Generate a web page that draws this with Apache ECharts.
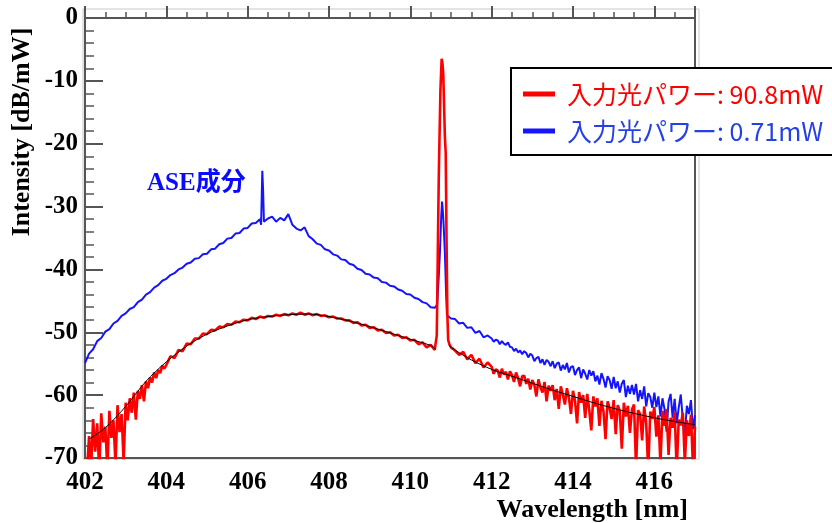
<!DOCTYPE html>
<html>
<head>
<meta charset="utf-8">
<script src="https://cdn.jsdelivr.net/npm/echarts@6/dist/echarts.min.js"></script>
<style>
html, body { margin: 0; padding: 0; background: #fff; }
#chart { width: 832px; height: 523px; }
</style>
</head>
<body>
<div id="chart"></div>
<script>
// each segment: first wavelength, step (nm), values in dB/mW
// blue: 402.0 - 411.9 every 0.1 nm
var blueMainDb = [
    -54.9, -53.4, -52.7, -51.4, -50.9, -49.9, -49.5, -48.6, -48.2, -47.4,
    -47.0, -46.3, -46.0, -45.2, -44.8, -44.0, -43.6, -42.9, -42.5, -41.8,
    -41.5, -40.9, -40.6, -40.0, -39.7, -39.1, -38.9, -38.3, -38.2, -37.6,
    -37.5, -36.8, -36.7, -36.0, -35.8, -35.1, -35.0, -34.3, -34.2, -33.5,
    -33.4, -32.7, -32.6, -32.0, -32.4, -31.9, -31.6, -32.4, -31.8, -32.2,
    -31.2, -32.9, -33.5, -33.8, -33.3, -34.7, -35.2, -35.9, -36.1, -36.8,
    -37.0, -37.6, -37.8, -38.4, -38.5, -39.1, -39.3, -39.9, -40.1, -40.7,
    -40.8, -41.3, -41.4, -42.0, -42.1, -42.6, -42.7, -43.2, -43.4, -43.9,
    -44.0, -44.5, -44.7, -45.2, -45.4, -46.0, -46.1, -41.0, -30.8, -47.3,
    -47.8, -47.9, -48.6, -48.5, -49.3, -49.2, -50.1, -49.8, -50.8, -50.5
];
// blue: 412.00 - 417.00 every 0.05 nm
var blueTailDb = [
    -51.0, -51.5, -51.2, -51.3, -51.9, -51.4, -51.8, -52.0, -51.6, -52.3,
    -52.4, -53.0, -52.6, -53.2, -52.9, -53.5, -53.0, -53.3, -54.0, -53.4,
    -53.7, -54.6, -54.1, -53.9, -54.9, -54.3, -55.2, -54.4, -54.7, -55.4,
    -54.6, -55.7, -55.0, -54.8, -56.1, -55.2, -55.9, -54.9, -56.4, -55.5,
    -55.4, -56.8, -56.0, -55.6, -57.3, -55.9, -56.6, -57.5, -56.0, -56.9,
    -56.2, -57.8, -56.9, -58.3, -56.5, -57.4, -58.8, -57.0, -57.6, -59.0,
    -57.1, -58.9, -57.8, -59.6, -58.2, -57.6, -60.3, -58.5, -59.8, -58.4,
    -59.9, -58.2, -61.0, -59.2, -60.6, -58.6, -61.8, -59.7, -60.3, -62.0,
    -59.6, -61.9, -60.2, -63.4, -60.5, -62.2, -65.8, -61.0, -59.8, -63.6,
    -60.6, -64.5, -62.0, -59.9, -63.8, -66.2, -61.7, -63.0, -60.8, -65.4,
    -63.2
];

// red: 402.00 - 403.95 every 0.05 nm
var redHeadDb = [
    -73.0, -72.0, -66.5, -71.5, -63.8, -69.0, -64.5, -72.0, -62.9, -67.5,
    -65.0, -71.8, -62.5, -66.8, -64.0, -71.0, -61.6, -65.9, -63.0, -70.5,
    -61.2, -64.0, -60.5, -62.8, -59.6, -63.9, -59.3, -60.6, -58.4, -61.0,
    -57.8, -58.9, -57.2, -58.0, -56.4, -57.3, -56.0, -56.5, -55.3, -55.8
];
// red: 404.0 - 411.9 every 0.1 nm
var redMainDb = [
    -55.2, -53.8, -54.1, -52.8, -53.0, -51.8, -51.9, -51.0, -51.0, -50.2,
    -50.3, -49.6, -49.7, -49.1, -49.2, -48.7, -48.8, -48.3, -48.4, -48.0,
    -48.1, -47.7, -47.9, -47.5, -47.7, -47.4, -47.5, -47.2, -47.4, -47.1,
    -47.3, -47.0, -47.2, -46.9, -47.2, -47.0, -47.3, -47.1, -47.4, -47.3,
    -47.6, -47.5, -47.8, -47.8, -48.1, -48.1, -48.5, -48.4, -48.9, -48.8,
    -49.3, -49.2, -49.7, -49.6, -50.1, -50.0, -50.5, -50.4, -50.9, -50.8,
    -51.3, -51.2, -51.9, -51.6, -52.4, -52.0, -52.8, -25.0, -8.0, -41.0,
    -52.4, -52.9, -53.6, -53.1, -54.3, -53.6, -54.9, -54.2, -55.6, -54.8
];
// red: 412.00 - 417.00 every 0.05 nm
var redTailDb = [
    -55.5, -56.6, -55.9, -56.1, -57.2, -55.8, -56.7, -56.3, -57.5, -56.2,
    -56.8, -57.9, -56.4, -57.3, -58.6, -57.0, -56.9, -58.2, -57.4, -59.1,
    -57.6, -58.4, -60.2, -57.5, -58.8, -59.6, -57.9, -61.0, -58.5, -59.3,
    -58.4, -60.8, -59.0, -62.2, -58.6, -59.9, -61.5, -58.9, -60.4, -63.0,
    -59.3, -60.9, -64.5, -59.5, -61.2, -60.0, -63.6, -59.8, -62.4, -65.6,
    -60.2, -61.8, -60.5, -64.9, -60.9, -62.6, -67.0, -61.0, -62.0, -63.8,
    -60.8, -66.2, -61.6, -62.5, -68.5, -61.2, -63.4, -61.7, -66.0, -62.3,
    -61.5, -71.5, -62.4, -63.0, -67.2, -61.8, -64.5, -72.0, -62.6, -63.8,
    -61.9, -66.6, -63.2, -71.0, -62.5, -64.9, -62.2, -69.5, -63.6, -65.2,
    -62.6, -72.0, -63.9, -64.8, -62.8, -70.8, -64.0, -66.5, -63.1, -71.5,
    -65.0
];

// finer samples around the narrow peaks
var bluePeakWl = [406.33, 406.36, 406.38, 406.39, 406.43,
    410.63, 410.66, 410.73, 410.76, 410.78, 410.82, 410.85, 410.88, 410.93];
var bluePeakDb = [-32.9, -24.3, -27.5, -30.0, -32.5,
    -46.4, -45.6, -37.0, -31.5, -29.2, -33.0, -37.5, -44.0, -47.3];

var redPeakWl = [410.62, 410.65, 410.68, 410.71, 410.74, 410.77, 410.79, 410.81,
    410.83, 410.85, 410.87, 410.89, 410.91, 410.93, 410.96];
var redPeakDb = [-52.9, -50.5, -35.0, -21.5, -11.5, -6.5, -7.2, -9.0,
    -14.0, -19.0, -21.5, -35.0, -47.0, -51.2, -51.9];

// smooth black trace through the red spectrum
var fitWl = [402.1, 402.5, 403, 403.5, 404, 404.5, 405, 405.5, 406, 406.5, 407, 407.5,
    408, 408.5, 409, 409.5, 410, 410.5, 410.62, 410.8, 410.95, 411, 411.5, 412,
    412.5, 413, 413.5, 414, 414.5, 415, 415.5, 416, 416.5, 417];
var fitDb = [-67.0, -65.2, -61.8, -57.8, -54.7, -52.2, -50.3, -49.0, -48.0, -47.5, -47.2, -47.1,
    -47.5, -48.2, -49.1, -50.1, -51.1, -52.1, -52.7, null, -52.0, -52.4, -54.4, -55.9,
    -57.0, -58.1, -59.2, -60.2, -61.2, -62.1, -62.9, -63.6, -64.2, -64.7];

var xTicks = { min: 402, max: 417, step: 2 };
var yTicks = { min: -70, max: 0, step: 10 };

var redName = '入力光パワー: 90.8mW';
var blueName = '入力光パワー: 0.71mW';

function segment(start, step, values) {
    return values.map(function (v, i) {
        return [+(start + i * step).toFixed(2), v];
    });
}

function merge(parts, extraWl, extraDb) {
    var pts = [].concat.apply([], parts);
    extraWl.forEach(function (w, i) { pts.push([w, extraDb[i]]); });
    pts.sort(function (a, b) { return a[0] - b[0]; });
    return pts;
}

var blueData = merge([
    segment(402.0, 0.1, blueMainDb),
    segment(412.0, 0.05, blueTailDb)
], bluePeakWl, bluePeakDb);

var redData = merge([
    segment(402.0, 0.05, redHeadDb),
    segment(404.0, 0.1, redMainDb),
    segment(412.0, 0.05, redTailDb)
], redPeakWl, redPeakDb);

var chart = echarts.init(document.getElementById('chart'));

var tickFont = {
    fontFamily: '"Liberation Serif", "Times New Roman", serif',
    fontWeight: 'bold',
    fontSize: 25,
    color: '#000'
};

chart.setOption({
    animation: false,
    grid: {
        left: 85, right: 137, top: 18, bottom: 65,
        show: true, borderColor: '#555', borderWidth: 2, backgroundColor: '#fff'
    },
    legend: {
        left: 511, top: 68,
        orient: 'vertical',
        backgroundColor: '#fff',
        borderColor: '#000', borderWidth: 2,
        padding: [13, 40, 11, 12],
        itemGap: 11,
        itemWidth: 32, itemHeight: 5,
        icon: 'rect',
        textStyle: {
            fontFamily: '"Noto Sans CJK JP", sans-serif', fontSize: 25, lineHeight: 26,
            padding: [0, 0, 0, 7]
        },
        data: [
            { name: redName, textStyle: { color: '#ff0000' } },
            { name: blueName, textStyle: { color: '#2541e6' } }
        ]
    },
    xAxis: {
        type: 'value',
        min: xTicks.min, max: xTicks.max, interval: xTicks.step,
        axisLine: { lineStyle: { color: '#555', width: 2 } },
        axisTick: { inside: true, length: 12, lineStyle: { color: '#555', width: 2 } },
        minorTick: { show: true, splitNumber: 4, length: 6, lineStyle: { color: '#555', width: 1.5 } },
        axisLabel: Object.assign({ margin: 12, showMaxLabel: false }, tickFont),
        splitLine: { show: false }
    },
    yAxis: {
        type: 'value',
        min: yTicks.min, max: yTicks.max, interval: yTicks.step,
        axisLine: { show: true, lineStyle: { color: '#555', width: 2 } },
        axisTick: { show: true, inside: true, length: 18, lineStyle: { color: '#555', width: 2 } },
        minorTick: { show: true, splitNumber: 5, length: 9, lineStyle: { color: '#555', width: 1.5 } },
        axisLabel: Object.assign({ margin: 7 }, tickFont),
        splitLine: { show: false }
    },
    graphic: [
        {
            type: 'rect', z: -1, silent: true,
            shape: { x: 83, y: 9, width: 616, height: 450 },
            style: { fill: null, stroke: '#c8c8c8', lineWidth: 1 }
        },
        {
            type: 'text', x: 22, y: 132, rotation: Math.PI / 2,
            style: {
                text: 'Intensity [dB/mW]', fill: '#000',
                font: 'bold 26px "Liberation Serif", serif',
                textAlign: 'center', textVerticalAlign: 'middle'
            }
        },
        {
            type: 'text', x: 688, y: 510,
            style: {
                text: 'Wavelength [nm]', fill: '#000',
                font: 'bold 26px "Liberation Serif", serif',
                textAlign: 'right', textVerticalAlign: 'middle'
            }
        },
        {
            type: 'text', x: 147, y: 184,
            style: {
                text: 'ASE成分', fill: '#0a0aff',
                font: 'bold 25px "Liberation Serif", "Noto Sans CJK JP", serif',
                textAlign: 'left', textVerticalAlign: 'middle'
            }
        }
    ],
    series: [
        {
            name: blueName, type: 'line', showSymbol: false, symbol: 'none',
            data: blueData,
            color: '#1414ff',
            lineStyle: { width: 2, color: '#1414ff' }
        },
        {
            name: redName, type: 'line', showSymbol: false, symbol: 'none',
            data: redData,
            color: '#ff0000',
            lineStyle: { width: 2.6, color: '#ff0000' }
        },
        {
            name: 'fit', type: 'line', showSymbol: false, symbol: 'none',
            data: fitWl.map(function (w, i) { return [w, fitDb[i]]; }),
            smooth: 0.3, connectNulls: false,
            lineStyle: { width: 1, color: '#000' }
        }
    ]
});
</script>
</body>
</html>
